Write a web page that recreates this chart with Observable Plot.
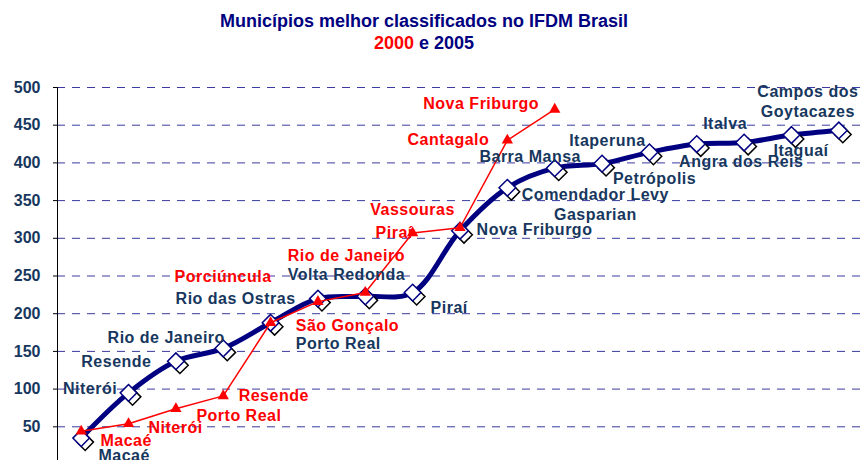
<!DOCTYPE html>
<html><head><meta charset="utf-8">
<script src="https://cdn.jsdelivr.net/npm/d3@7"></script>
<script src="https://cdn.jsdelivr.net/npm/@observablehq/plot@0.6"></script>
<style>
html,body{margin:0;padding:0;background:#fff;overflow:hidden;}
#title{position:relative;width:848px;height:60px;font-family:"Liberation Sans",Arial,sans-serif;font-weight:bold;font-size:18px;color:#000080;}
#title div{position:absolute;left:0;width:848px;text-align:center;line-height:22px;white-space:nowrap;}
#chart svg g[aria-label="text"] text{letter-spacing:0.5px;}
#chart svg g[aria-label="y-axis tick"] path{stroke:#000;}
</style></head><body>
<div id="title"><div style="top:10px">Municípios melhor classificados no IFDM Brasil</div><div style="top:32px"><span style="color:#ff0000">2000</span> e 2005</div></div>
<div id="chart"></div>
<script>
// 2005 series (blue)
const municipios2005 = ["Macaé","Niterói","Resende","Rio de Janeiro","Rio das Ostras","Volta Redonda","Porto Real","Piraí","Nova Friburgo","Comendador Levy\nGasparian","Barra Mansa","Petrópolis","Itaperuna","Angra dos Reis","Italva","Itaguaí","Campos dos\nGoytacazes"];
const valores2005 = [35,95,137,154,188,220,223,228,310,367,393,399,414,425,427,437,443];
// 2000 series (red)
const municipios2000 = ["Macaé","Niterói","Porto Real","Resende","Porciúncula","São Gonçalo","Rio de Janeiro","Piraí","Vassouras","Cantagalo","Nova Friburgo"];
const valores2000 = [44,54,74,91,188,216,228,307,314,430,471];
// y ticks
const yTicks = [50,100,150,200,250,300,350,400,450,500];

// label offsets in pixels (placement only)
const off2005 = [[43,16],[-38.5,-5],[-59.5,-1],[-57,-12],[-35,-25],[28.5,-25],[-27,46],[36.5,14],[74.5,-2],[88,16],[-24.5,-13],[52.5,14],[-42,-13],[44.5,17],[-19,-20],[9.5,15],[-31,-30]];
const off2000 = [[45,10],[47,4],[63,7],[50.5,0],[-47.5,-46],[29.5,24],[-19,-37],[-18.5,0],[-47.5,-18],[-59,0],[-73.5,-5]];

const NAVY = "#000080", RED = "#ff0000", TXT = "#17375e";

const labelMarks = [];
municipios2005.forEach((name, i) => labelMarks.push(Plot.text([i], {
  x: d => d, y: d => valores2005[d], text: () => name,
  dx: off2005[i][0], dy: off2005[i][1], fill: TXT, fontSize: 16, fontWeight: "bold", lineHeight: 1.25
})));
municipios2000.forEach((name, i) => labelMarks.push(Plot.text([i], {
  x: d => d, y: d => valores2000[d], text: () => name,
  dx: off2000[i][0], dy: off2000[i][1], fill: RED, fontSize: 16, fontWeight: "bold"
})));

const chart = Plot.plot({
  width: 862, height: 404,
  marginLeft: 57, marginRight: 0, marginTop: 27, marginBottom: 0,
  x: {domain: [-0.5, 16.5], axis: null},
  y: {domain: [0, 500], ticks: yTicks, tickSize: 4, tickPadding: 13, label: null},
  style: {fontFamily: "'Liberation Sans', Arial, sans-serif", fontSize: "16px", fontWeight: "bold", color: TXT, background: "#fff", overflow: "visible"},
  marks: [
    Plot.ruleY(yTicks, {stroke: "#3a3aa0", strokeWidth: 1, strokeDasharray: "8,7"}),
    Plot.ruleX([-0.5], {stroke: "#000", strokeWidth: 1}),
    Plot.line(valores2005, {x: (d, i) => i, y: d => d, curve: "catmull-rom", stroke: NAVY, strokeWidth: 5}),
    Plot.dot(valores2005, {x: (d, i) => i, y: d => d, symbol: "diamond2", r: 7.5, fill: "white", stroke: "#000", strokeWidth: 1.5, dx: 4, dy: 4}),
    Plot.dot(valores2005, {x: (d, i) => i, y: d => d, symbol: "diamond2", r: 7.5, fill: "white", stroke: NAVY, strokeWidth: 1.5}),
    Plot.line(valores2000, {x: (d, i) => i, y: d => d, stroke: RED, strokeWidth: 1.5}),
    Plot.dot(valores2000, {x: (d, i) => i, y: d => d, symbol: "triangle", r: 4.2, fill: RED, stroke: "none"}),
    ...labelMarks
  ]
});
document.getElementById("chart").appendChild(chart);
</script>
</body></html>
